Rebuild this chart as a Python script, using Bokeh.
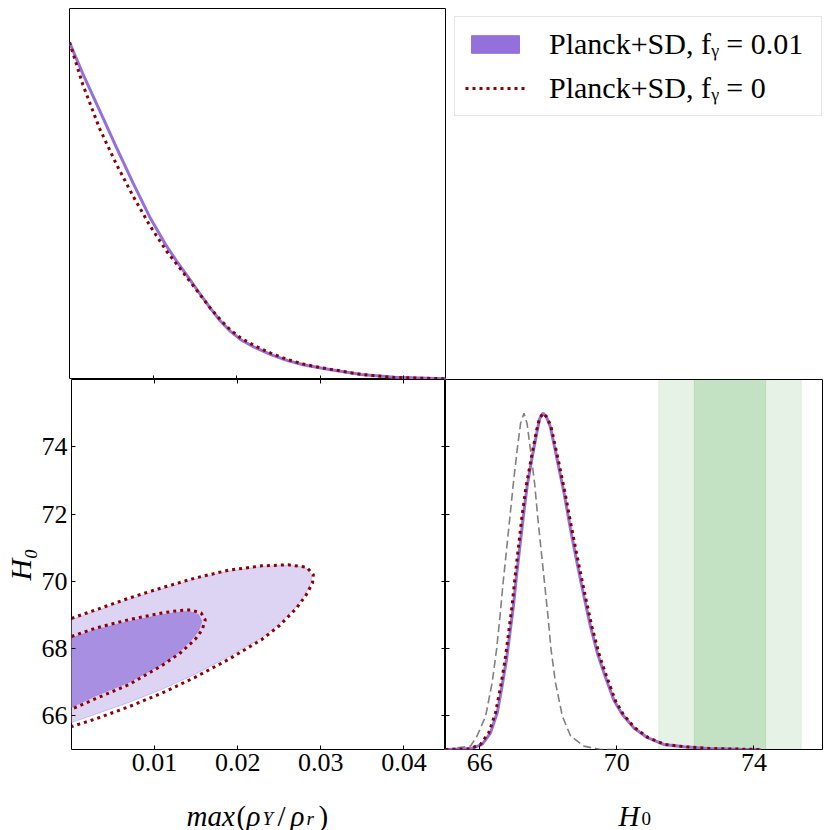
import math
from bokeh.plotting import figure
from bokeh.models import (Range1d, LinearAxis, FixedTicker, Legend, LegendItem,
                          BoxAnnotation, Label)
from bokeh.layouts import column, row
from bokeh.embed import file_html
from bokeh.resources import INLINE

# ---------------- data ----------------
rho_ticks = [0.01, 0.02, 0.03, 0.04]
h0_ticks_2d = [66, 68, 70, 72, 74]
h0_ticks_1d = [66, 70, 74]
rho_range = (0.0, 0.045)
h0_range = (65.0, 76.0)
pdf_range = (0.0, 1.1)

# 1D posterior of max(rho_Y/rho_r)
rho_grid = [0.0, 0.0016, 0.0036, 0.0056, 0.0076, 0.0096, 0.0116, 0.0128, 0.0145,
            0.0157, 0.0169, 0.0181, 0.0193, 0.0205, 0.0221, 0.0241, 0.0261,
            0.0281, 0.0301, 0.0313, 0.0349, 0.0389, 0.045]
rho_pdf_fg001 = [1.0, 0.906, 0.798, 0.689, 0.583, 0.482, 0.396, 0.352, 0.293,
                 0.251, 0.210, 0.172, 0.142, 0.118, 0.096, 0.074, 0.056,
                 0.043, 0.034, 0.029, 0.015, 0.007, 0.002]
rho_pdf_fg0 = [1.0, 0.874, 0.744, 0.639, 0.544, 0.457, 0.381, 0.343, 0.288,
               0.249, 0.210, 0.176, 0.146, 0.123, 0.101, 0.078, 0.059,
               0.045, 0.035, 0.030, 0.015, 0.006, 0.002]

# 1D posterior of H0
h0_grid_fg001 = [65.0, 65.73, 66.07, 66.31, 66.51, 66.65, 66.78, 66.88, 66.98,
                 67.07, 67.17, 67.27, 67.38, 67.53, 67.68, 67.75, 67.85, 67.95,
                 68.06, 68.26, 68.46, 68.65, 68.84, 69.04, 69.23, 69.45, 69.60,
                 69.75, 69.92, 70.16, 70.50, 70.89, 71.37, 71.96, 72.64, 73.61, 74.2]
h0_pdf_fg001 = [0.0, 0.002, 0.015, 0.049, 0.109, 0.188, 0.267, 0.346, 0.425,
                0.514, 0.603, 0.692, 0.781, 0.870, 0.950, 0.984, 1.0, 0.988,
                0.959, 0.861, 0.762, 0.653, 0.554, 0.455, 0.366, 0.280, 0.235,
                0.192, 0.145, 0.104, 0.064, 0.035, 0.015, 0.008, 0.003, 0.001, 0.0]
h0_grid_fg0 = [65.0, 65.70, 66.02, 66.26, 66.46, 66.61, 66.74, 66.84, 66.94,
               67.03, 67.13, 67.23, 67.35, 67.51, 67.66, 67.74, 67.85, 67.96,
               68.08, 68.29, 68.49, 68.69, 68.88, 69.08, 69.27, 69.49, 69.64,
               69.79, 69.96, 70.19, 70.53, 70.92, 71.40, 72.00, 72.70, 73.60, 74.2]
h0_pdf_fg0 = h0_pdf_fg001
h0_grid_lcdm = [65.0, 65.73, 65.92, 66.17, 66.36, 66.49, 66.59, 66.68, 66.78,
                66.88, 66.98, 67.09, 67.19, 67.29, 67.38, 67.48, 67.60, 67.69,
                67.79, 67.89, 67.99, 68.08, 68.21, 68.41, 68.65, 69.04, 69.52, 70.2]
h0_pdf_lcdm = [0.0, 0.010, 0.040, 0.099, 0.198, 0.297, 0.396, 0.495, 0.593,
               0.692, 0.791, 0.890, 0.969, 1.0, 0.969, 0.890, 0.791, 0.692,
               0.593, 0.495, 0.396, 0.297, 0.198, 0.099, 0.040, 0.010, 0.0, 0.0]

# 2D contours (filled: f_gamma = 0.01; dotted: f_gamma = 0)
c95_fg001_x = [0.0, 0.0029, 0.0069, 0.0109, 0.0149, 0.0189, 0.0229, 0.0261, 0.0281,
               0.0289, 0.0288, 0.0281, 0.0269, 0.0249, 0.0229, 0.0189, 0.0149,
               0.0109, 0.0069, 0.0029, 0.0]
c95_fg001_y = [68.86, 69.11, 69.46, 69.77, 70.07, 70.30, 70.44, 70.48, 70.42,
               70.20, 69.95, 69.60, 69.21, 68.72, 68.32, 67.76, 67.24, 66.79,
               66.40, 66.05, 65.80]
c68_fg001_x = [0.0, 0.0029, 0.0069, 0.0109, 0.0129, 0.0141, 0.0153, 0.0157, 0.0153,
               0.0145, 0.0129, 0.0109, 0.0069, 0.0029, 0.0]
c68_fg001_y = [68.32, 68.57, 68.81, 69.01, 69.08, 69.11, 69.01, 68.81, 68.52,
               68.27, 67.88, 67.53, 66.99, 66.59, 66.25]
c95_fg0_x = [0.0, 0.0029, 0.0069, 0.0109, 0.0149, 0.0189, 0.0229, 0.0261, 0.0283,
             0.0291, 0.0290, 0.0282, 0.0270, 0.0250, 0.0229, 0.0189, 0.0149,
             0.0109, 0.0069, 0.0029, 0.0]
c95_fg0_y = [68.90, 69.15, 69.50, 69.81, 70.10, 70.33, 70.46, 70.49, 70.42,
             70.20, 69.95, 69.58, 69.18, 68.68, 68.27, 67.68, 67.15, 66.68,
             66.27, 65.91, 65.68]
c68_fg0_x = [0.0, 0.0029, 0.0069, 0.0109, 0.0129, 0.0143, 0.0156, 0.0161, 0.0157,
             0.0149, 0.0131, 0.0109, 0.0069, 0.0029, 0.0]
c68_fg0_y = [68.36, 68.61, 68.86, 69.06, 69.13, 69.15, 69.06, 68.85, 68.55,
             68.28, 67.87, 67.50, 66.93, 66.51, 66.20]

# SH0ES H0 measurement
sh0es_mean = 73.30
sh0es_sigma = 1.04

legend_labels = ["Planck+SD, fᵧ = 0.01", "Planck+SD, fᵧ = 0"]
ylabel_text = "H₀"

# ---------------- style ----------------
FONT = "Liberation Serif"
PURPLE = "#9370DB"
LIGHT = "#ddd4f4"
MID = "#a98fe1"
DARKRED = "#8B0000"
DOT = "3 4"


def make_fig(w, h, xr, yr, bl, br, bt, bb, outline=True):
    p = figure(width=w, height=h, x_range=Range1d(*xr), y_range=Range1d(*yr),
               output_backend="svg", toolbar_location=None,
               x_axis_location=None, y_axis_location=None,
               min_border_left=bl, min_border_right=br,
               min_border_top=bt, min_border_bottom=bb)
    p.title.visible = False
    p.grid.visible = False
    p.outline_line_color = "black" if outline else None
    p.outline_line_width = 1
    p.background_fill_color = "white"
    p.border_fill_color = "white"
    return p


def add_axis(p, side, ticks, labels, y_range_name=None):
    kw = {}
    if y_range_name:
        kw["y_range_name"] = y_range_name
    ax = LinearAxis(ticker=FixedTicker(ticks=ticks), **kw)
    ax.major_tick_in = 4
    ax.major_tick_out = 0
    ax.minor_tick_in = 0
    ax.minor_tick_out = 0
    ax.axis_line_color = None
    ax.major_tick_line_color = "black"
    ax.major_tick_line_width = 1
    if labels:
        ax.major_label_text_font = FONT
        ax.major_label_text_font_size = "26px"
        ax.major_label_text_color = "black"
        ax.major_label_standoff = 4
    else:
        ax.major_label_text_font_size = "0px"
        ax.major_label_standoff = 0
        ax.major_label_overrides = {float(t): "" for t in ticks}
    p.add_layout(ax, side)
    return ax


# ---------------- top-left: 1D rho ----------------
p_tl = make_fig(446, 379, rho_range, pdf_range, 69, 1, 8, 0)
add_axis(p_tl, "below", rho_ticks, False)
p_tl.line(rho_grid, rho_pdf_fg001, line_color=PURPLE, line_width=3)
p_tl.line(rho_grid, rho_pdf_fg0, line_color=DARKRED, line_width=3, line_dash=DOT)

# ---------------- top-right: legend ----------------
p_tr = make_fig(384, 379, rho_range, h0_range, 0, 0, 0, 0, outline=False)
r_fill = p_tr.patch(c68_fg001_x, c68_fg001_y, fill_color=PURPLE, line_color=PURPLE,
                    visible=False)
r_dot = p_tr.line(c68_fg0_x, c68_fg0_y, line_color=DARKRED, line_width=3,
                  line_dash=DOT, visible=False)
legend = Legend(items=[LegendItem(label=legend_labels[0], renderers=[r_fill]),
                       LegendItem(label=legend_labels[1], renderers=[r_dot])],
                location="top_right", margin=8, padding=10, spacing=10,
                glyph_width=60, glyph_height=22, label_height=34,
                label_standoff=24, label_width=262,
                label_text_font=FONT, label_text_font_size="30px",
                label_text_color="black",
                border_line_color="#cccccc", border_line_width=1,
                background_fill_color="white", background_fill_alpha=1.0)
p_tr.add_layout(legend)

# ---------------- bottom-left: 2D contours ----------------
p_bl = make_fig(445, 403, rho_range, h0_range, 69, 0, 0, 33)
add_axis(p_bl, "below", rho_ticks, True)
ax_l = add_axis(p_bl, "left", h0_ticks_2d, True)
ax_l.axis_label = ylabel_text
ax_l.axis_label_text_font = FONT
ax_l.axis_label_text_font_style = "italic"
ax_l.axis_label_text_font_size = "30px"
ax_l.axis_label_text_color = "black"
ax_l.axis_label_standoff = 2
add_axis(p_bl, "above", rho_ticks, False)
add_axis(p_bl, "right", h0_ticks_2d, False)
p_bl.patch(c95_fg001_x, c95_fg001_y, fill_color=LIGHT, line_color=PURPLE,
           line_alpha=0.35, line_width=1)
p_bl.patch(c68_fg001_x, c68_fg001_y, fill_color=MID, line_color=PURPLE,
           line_alpha=0.35, line_width=1)
p_bl.line(c95_fg0_x, c95_fg0_y, line_color=DARKRED, line_width=3, line_dash=DOT)
p_bl.line(c68_fg0_x, c68_fg0_y, line_color=DARKRED, line_width=3, line_dash=DOT)

# ---------------- bottom-right: 1D H0 ----------------
p_br = make_fig(385, 403, h0_range, pdf_range, 0, 8, 0, 33)
p_br.extra_y_ranges = {"h0": Range1d(*h0_range)}
add_axis(p_br, "below", h0_ticks_1d, True)
add_axis(p_br, "left", h0_ticks_2d, False, y_range_name="h0")
p_br.add_layout(BoxAnnotation(left=sh0es_mean - 2 * sh0es_sigma,
                              right=sh0es_mean + 2 * sh0es_sigma,
                              fill_color="green", fill_alpha=0.10,
                              line_color="green", line_alpha=0.08, level="underlay"))
p_br.add_layout(BoxAnnotation(left=sh0es_mean - sh0es_sigma,
                              right=sh0es_mean + sh0es_sigma,
                              fill_color="green", fill_alpha=0.145,
                              line_color="green", line_alpha=0.12, level="underlay"))
p_br.line(h0_grid_lcdm, h0_pdf_lcdm, line_color="gray", line_width=1.6, line_dash="8 4")
p_br.line(h0_grid_fg001, h0_pdf_fg001, line_color=PURPLE, line_width=3)
p_br.line(h0_grid_fg0, h0_pdf_fg0, line_color=DARKRED, line_width=3, line_dash=DOT)

# ---------------- axis-label strip (x labels with subscripts) ----------------
p_xl = make_fig(830, 48, (0, 830), (0, 48), 0, 0, 0, 0, outline=False)
# (text, left x in px, baseline in px from strip bottom, font px, italic)
xlabel_pieces = [("max", 186, 15, 29, True), ("(", 236, 15, 29, False),
                 ("ρ", 246, 15, 29, True), ("Y", 262, 12, 19, True),
                 ("/", 277, 15, 29, False), ("ρ", 290, 15, 29, True),
                 ("r", 306, 12, 19, True), (")", 318, 15, 29, False),
                 ("H", 618, 15, 29, True), ("0", 641, 12, 19, False)]
for t, x, y, s, it in xlabel_pieces:
    p_xl.add_layout(Label(x=x, y=y, text=t, text_font=FONT,
                          text_font_style="italic" if it else "normal",
                          text_font_size=f"{s}px", text_color="black",
                          text_align="left", text_baseline="alphabetic"))

layout = column(row(p_tl, p_tr), row(p_bl, p_br), p_xl)
open("out.html", "w").write(file_html(layout, INLINE))
